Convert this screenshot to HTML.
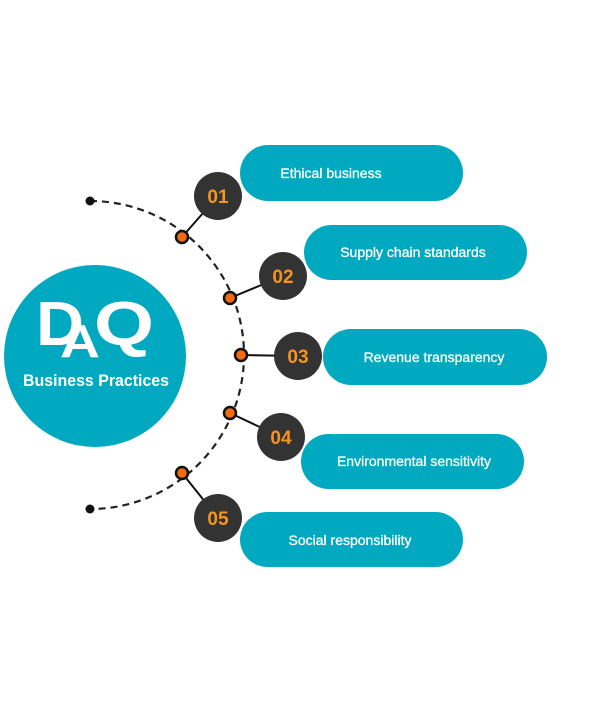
<!DOCTYPE html>
<html><head><style>body{margin:0;background:#fff}</style></head><body>
<svg width="600" height="714" xmlns="http://www.w3.org/2000/svg" font-family="Liberation Sans, sans-serif">
<rect width="600" height="714" fill="#fff"/>
<path d="M90,201 A154,154 0 0 1 90,509" fill="none" stroke="#222" stroke-width="2.2" stroke-dasharray="7,5"/>
<circle cx="90" cy="201" r="4.5" fill="#111"/><circle cx="90" cy="509" r="4.5" fill="#111"/>
<circle cx="95" cy="356" r="91" fill="#00a9c0"/>
<text x="36" y="345" font-size="62" font-weight="bold" fill="#fff" textLength="48" lengthAdjust="spacingAndGlyphs">D</text>
<text x="60" y="357" font-size="46" font-weight="bold" fill="#fff" textLength="40" lengthAdjust="spacingAndGlyphs">A</text>
<text x="94" y="345" font-size="62" font-weight="bold" fill="#fff" textLength="60" lengthAdjust="spacingAndGlyphs">Q</text>
<text x="96" y="386" font-size="17" font-weight="bold" fill="#fff" text-anchor="middle" textLength="146" lengthAdjust="spacingAndGlyphs">Business Practices</text>
<g stroke="#111" stroke-width="2">
<line x1="182" y1="237" x2="218" y2="196"/><line x1="230" y1="298" x2="283" y2="276"/><line x1="241" y1="355" x2="298" y2="356"/><line x1="230" y1="413" x2="281" y2="437"/><line x1="182" y1="473" x2="218" y2="518"/>
</g>
<g fill="#00a9c0">
<rect x="240" y="145" width="223" height="56" rx="28"/>
<rect x="304" y="225" width="223" height="55" rx="27.5"/>
<rect x="323" y="329" width="224" height="56" rx="28"/>
<rect x="301" y="434" width="223" height="55" rx="27.5"/>
<rect x="240" y="512" width="223" height="55" rx="27.5"/>
</g>
<g fill="#333">
<circle cx="218" cy="196" r="24"/><circle cx="283" cy="276" r="24"/><circle cx="298" cy="356" r="24"/><circle cx="281" cy="437" r="24"/><circle cx="218" cy="518" r="24"/>
</g>
<g fill="#f7941d" font-size="19" font-weight="bold" text-anchor="middle">
<text x="218" y="203">01</text><text x="283" y="283">02</text><text x="298" y="363">03</text><text x="281" y="444">04</text><text x="218" y="525">05</text>
</g>
<g fill="#f26b0f" stroke="#111" stroke-width="2.5">
<circle cx="182" cy="237" r="6"/><circle cx="230" cy="298" r="6"/><circle cx="241" cy="355" r="6"/><circle cx="230" cy="413" r="6"/><circle cx="182" cy="473" r="6"/>
</g>
<g fill="#fff" font-size="14" text-anchor="middle" stroke="#fff" stroke-width="0.3">
<text x="331" y="178">Ethical business</text>
<text x="413" y="257">Supply chain standards</text>
<text x="434" y="362">Revenue transparency</text>
<text x="414" y="466">Environmental  sensitivity</text>
<text x="350" y="545">Social  responsibility</text>
</g>
</svg>
</body></html>
